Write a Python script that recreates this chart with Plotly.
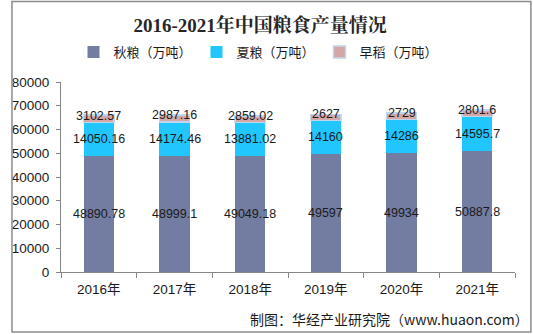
import plotly.graph_objects as go

years = ["2016年", "2017年", "2018年", "2019年", "2020年", "2021年"]
autumn = [48890.78, 48999.1, 49049.18, 49597, 49934, 50887.8]
summer = [14050.16, 14174.46, 13881.02, 14160, 14286, 14595.7]
early = [3102.57, 2987.16, 2859.02, 2627, 2729, 2801.6]
autumn_lbl = ["48890.78", "48999.1", "49049.18", "49597", "49934", "50887.8"]
summer_lbl = ["14050.16", "14174.46", "13881.02", "14160", "14286", "14595.7"]
early_lbl = ["3102.57", "2987.16", "2859.02", "2627", "2729", "2801.6"]
names = ["秋粮（万吨）", "夏粮（万吨）", "早稻（万吨）"]
colors = ["#737CA1", "#21C6FE", "#D4A6A6"]

NUM = "Liberation Sans, Arial, Noto Sans CJK SC"
CJK = "Noto Sans CJK SC, Liberation Sans"

fig = go.Figure()
series = [autumn, summer, early]
for i, (vals, nm, c) in enumerate(zip(series, names, colors)):
    fig.add_trace(go.Bar(
        x=years, y=vals, name=nm, width=0.4,
        marker=dict(color=c, line=dict(color="#BDD7EE" if i == 2 else c, width=1.5 if i == 2 else 0)),
    ))

ann = []
labels = [autumn_lbl, summer_lbl, early_lbl]
for j, yr in enumerate(years):
    base = 0
    for i, vals in enumerate(series):
        mid = base + vals[j] / 2
        ann.append(dict(x=yr, y=mid, xref="x", yref="y", text=labels[i][j], showarrow=False,
                        font=dict(family=NUM, size=12.5, color="#1a1a1a"),
                        yshift=3 if i == 2 else 0))
        base += vals[j]

ann.append(dict(text="制图：华经产业研究院（www.huaon.com）", xref="paper", yref="paper",
                x=1.035, y=-0.245, xanchor="right", yanchor="middle", showarrow=False,
                font=dict(family=CJK, size=14, color="#1a1a1a")))

fig.update_layout(
    width=533, height=334,
    margin=dict(l=52, r=18, t=82, b=62),
    paper_bgcolor="white", plot_bgcolor="white",
    barmode="stack",
    title=dict(text="<b>2016-2021年中国粮食产量情况</b>", x=0.488, y=0.925, xanchor="center", yanchor="middle",
               font=dict(family="Liberation Serif, Noto Serif CJK SC, Noto Sans CJK SC", size=19, color="#262626")),
    legend=dict(orientation="h", x=0.435, y=1.158, xanchor="center", yanchor="middle",
                font=dict(family=CJK, size=13, color="#1a1a1a"), traceorder="normal",
                itemwidth=30, bgcolor="rgba(0,0,0,0)"),
    annotations=ann,
    shapes=[dict(type="rect", xref="paper", yref="paper", x0=-0.108, x1=1.035, y0=-0.316, y1=1.424,
                 line=dict(color="#8C8C8C", width=1.5))],
    xaxis=dict(showline=True, linecolor="#868686", linewidth=1, ticks="outside", tickson="boundaries",
               ticklen=5, tickcolor="#868686", tickfont=dict(family=NUM, size=13.5, color="#1a1a1a"),
               showgrid=False, ticklabelstandoff=5),
    yaxis=dict(range=[0, 80000], dtick=10000, showline=True, linecolor="#868686", linewidth=1,
               ticks="outside", ticklen=4, tickcolor="#868686", showgrid=False, zeroline=False,
               tickfont=dict(family=NUM, size=13.5, color="#1a1a1a"), tickformat="d",
               ticklabelstandoff=4),
    showlegend=True,
)

fig.write_html("out.html")
